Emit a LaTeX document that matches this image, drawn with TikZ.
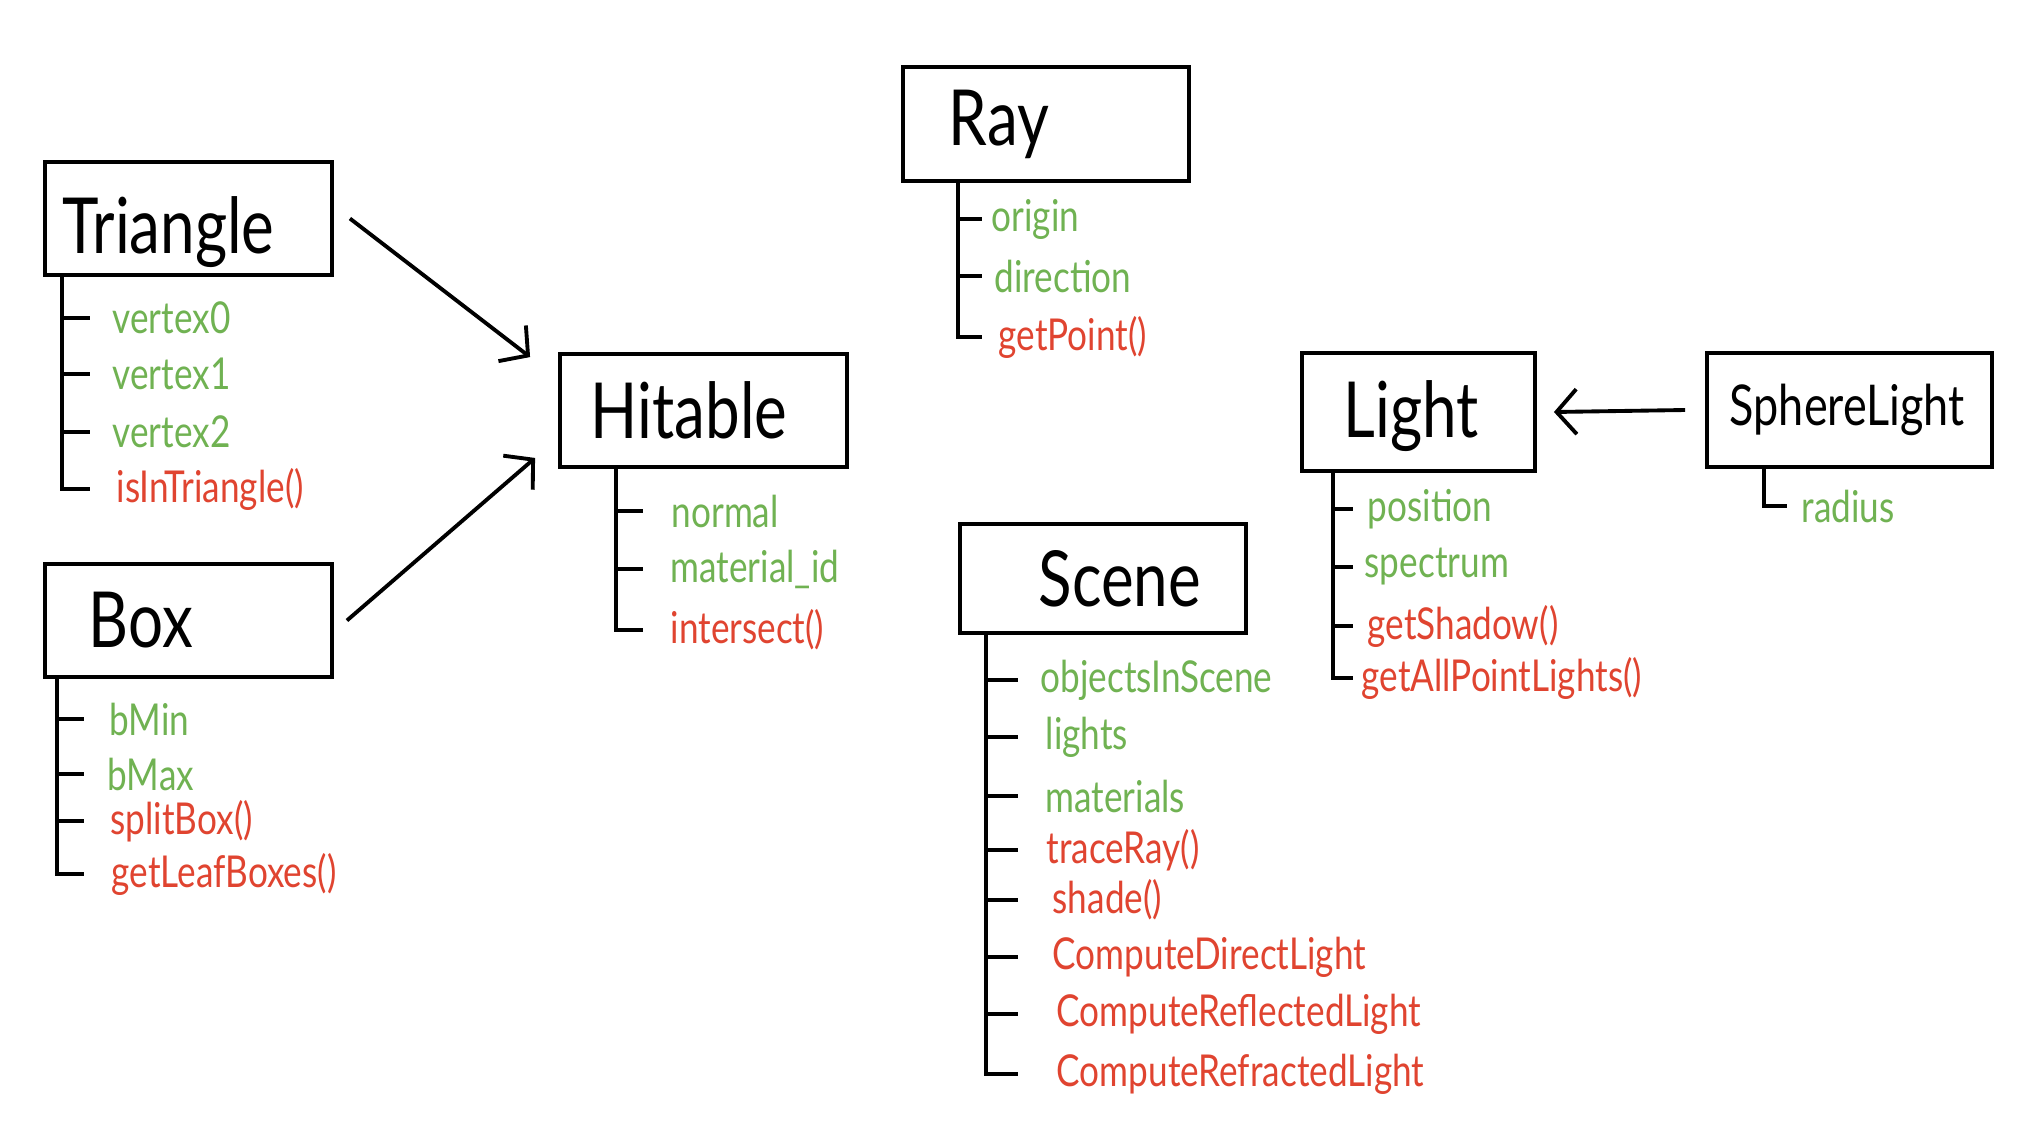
\documentclass[tikz,border=0pt]{standalone}
\usepackage{fontspec}
\setmainfont{Lato}[FakeStretch=0.8]
\usepackage{tikz}
\usetikzlibrary{arrows.meta, positioning}
\usepackage{xcolor}
\definecolor{attrgreen}{RGB}{112,178,82}
\definecolor{methred}{RGB}{224,68,48}

\begin{document}
\begin{tikzpicture}[
    cls/.style={draw, rectangle, line width=1.1pt, inner sep=0pt, minimum width=2.87cm, minimum height=1.13cm},
    title/.style={inner sep=0pt, font=\fontsize{22}{24}\selectfont},
    attr/.style={inner sep=0pt, anchor=west, text=attrgreen, font=\fontsize{12.5}{14}\selectfont},
    meth/.style={attr, text=methred},
    tree/.style={line width=1.1pt},
    arr/.style={line width=1.1pt, -{Straight Barb[length=2mm, width=4.5mm]}}
]
    \fill[white] (0,0) rectangle (20.18,-11.34);
    \useasboundingbox (0,0) rectangle (20.18,-11.34);

    \node[cls] (tri) at (1.885,-2.185) {};
    \node[title, right=0.19cm of tri.west, yshift=-0.14cm] (tritxt) {Triangle};
    \node[cls] (box) at (1.885,-6.205) {};
    \node[title, right=0.45cm of box.west] (boxtxt) {Box};
    \node[cls] (hit) at (7.035,-4.105) {};
    \node[title, right=0.32cm of hit.west] (hittxt) {Hitable};
    \node[cls, minimum width=2.86cm, minimum height=1.14cm] (ray) at (10.46,-1.24) {};
    \node[title, right=0.47cm of ray.west] (raytxt) {Ray};
    \node[cls, minimum width=2.86cm, minimum height=1.09cm] (scene) at (11.03,-5.785) {};
    \node[title, right=0.80cm of scene.west] (scenetxt) {Scene};
    \node[cls, minimum width=2.33cm, minimum height=1.18cm] (light) at (14.185,-4.12) {};
    \node[title, right=0.43cm of light.west, yshift=-0.04cm] (lighttxt) {Light};
    \node[cls, minimum width=2.85cm, minimum height=1.14cm] (sph) at (18.495,-4.10) {};
    \node[title, font=\fontsize{16}{18}\selectfont, right=0.24cm of sph.west] (sphtxt) {SphereLight};

    \node[attr] (v0) at (1.12,-3.18) {vertex0};
    \node[attr] (v1) at (1.12,-3.74) {vertex1};
    \node[attr] (v2) at (1.12,-4.32) {vertex2};
    \node[meth] (isin) at (1.16,-4.89) {isInTriangle()};
    \draw[tree] ([xshift=0.19cm]tri.south west) |- ([xshift=-0.22cm]v0.west);
    \draw[tree] ([xshift=0.19cm]tri.south west) |- ([xshift=-0.22cm]v1.west);
    \draw[tree] ([xshift=0.19cm]tri.south west) |- ([xshift=-0.22cm]v2.west);
    \draw[tree] ([xshift=0.19cm]tri.south west) |- ([xshift=-0.26cm]isin.west);

    \node[attr] (bmin) at (1.09,-7.19) {bMin};
    \node[attr] (bmax) at (1.07,-7.74) {bMax};
    \node[meth] (split) at (1.10,-8.21) {splitBox()};
    \node[meth] (leaf) at (1.11,-8.74) {getLeafBoxes()};
    \draw[tree] ([xshift=0.14cm]box.south west) |- ([xshift=-0.25cm]bmin.west);
    \draw[tree] ([xshift=0.14cm]box.south west) |- ([xshift=-0.23cm]bmax.west);
    \draw[tree] ([xshift=0.14cm]box.south west) |- ([xshift=-0.26cm]split.west);
    \draw[tree] ([xshift=0.14cm]box.south west) |- ([xshift=-0.27cm]leaf.west);

    \node[attr] (normal) at (6.71,-5.11) {normal};
    \node[attr] (matid) at (6.70,-5.69) {material\_id};
    \node[meth] (isect) at (6.70,-6.30) {intersect()};
    \draw[tree] ([xshift=0.58cm]hit.south west) |- ([xshift=-0.28cm]normal.west);
    \draw[tree] ([xshift=0.58cm]hit.south west) |- ([xshift=-0.27cm]matid.west);
    \draw[tree] ([xshift=0.58cm]hit.south west) |- ([xshift=-0.27cm]isect.west);

    \node[attr] (origin) at (9.91,-2.19) {origin};
    \node[attr] (dir) at (9.94,-2.76) {direction};
    \node[meth] (getpt) at (9.98,-3.37) {getPoint()};
    \draw[tree] ([xshift=0.57cm]ray.south west) |- ([xshift=-0.09cm]origin.west);
    \draw[tree] ([xshift=0.57cm]ray.south west) |- ([xshift=-0.12cm]dir.west);
    \draw[tree] ([xshift=0.57cm]ray.south west) |- ([xshift=-0.16cm]getpt.west);

    \node[attr] (objs) at (10.40,-6.80) {objectsInScene};
    \node[attr] (lights) at (10.45,-7.37) {lights};
    \node[attr] (mats) at (10.45,-7.96) {materials};
    \node[meth] (trace) at (10.46,-8.50) {traceRay()};
    \node[meth] (shade) at (10.52,-9.00) {shade()};
    \node[meth] (direct) at (10.52,-9.57) {ComputeDirectLight};
    \node[meth] (reflect) at (10.56,-10.14) {ComputeReflectedLight};
    \node[meth] (refract) at (10.56,-10.74) {ComputeRefractedLight};
    \draw[tree] ([xshift=0.28cm]scene.south west) |- ([xshift=-0.22cm]objs.west);
    \draw[tree] ([xshift=0.28cm]scene.south west) |- ([xshift=-0.27cm]lights.west);
    \draw[tree] ([xshift=0.28cm]scene.south west) |- ([xshift=-0.27cm]mats.west);
    \draw[tree] ([xshift=0.28cm]scene.south west) |- ([xshift=-0.28cm]trace.west);
    \draw[tree] ([xshift=0.28cm]scene.south west) |- ([xshift=-0.34cm]shade.west);
    \draw[tree] ([xshift=0.28cm]scene.south west) |- ([xshift=-0.34cm]direct.west);
    \draw[tree] ([xshift=0.28cm]scene.south west) |- ([xshift=-0.38cm]reflect.west);
    \draw[tree] ([xshift=0.28cm]scene.south west) |- ([xshift=-0.38cm]refract.west);

    \node[attr] (pos) at (13.67,-5.09) {position};
    \node[attr] (spec) at (13.64,-5.67) {spectrum};
    \node[meth] (shadow) at (13.67,-6.26) {getShadow()};
    \node[meth] (allpt) at (13.61,-6.78) {getAllPointLights()};
    \draw[tree] ([xshift=0.33cm]light.south west) |- ([xshift=-0.14cm]pos.west);
    \draw[tree] ([xshift=0.33cm]light.south west) |- ([xshift=-0.11cm]spec.west);
    \draw[tree] ([xshift=0.33cm]light.south west) |- ([xshift=-0.14cm]shadow.west);
    \draw[tree] ([xshift=0.33cm]light.south west) |- ([xshift=-0.08cm]allpt.west);

    \node[attr] (radius) at (18.01,-5.06) {radius};
    \draw[tree] ([xshift=0.59cm]sph.south west) |- ([xshift=-0.14cm]radius.west);

    \draw[arr] ([xshift=0.16cm]tri.east) -- ([xshift=-0.28cm,yshift=-0.05cm]hit.north west);
    \draw[arr] ([xshift=0.13cm]box.east) -- ([xshift=-0.23cm,yshift=0.11cm]hit.south west);
    \draw[arr] ([xshift=-0.20cm]sph.west) -- ([xshift=0.17cm]light.east);
\end{tikzpicture}
\end{document}
